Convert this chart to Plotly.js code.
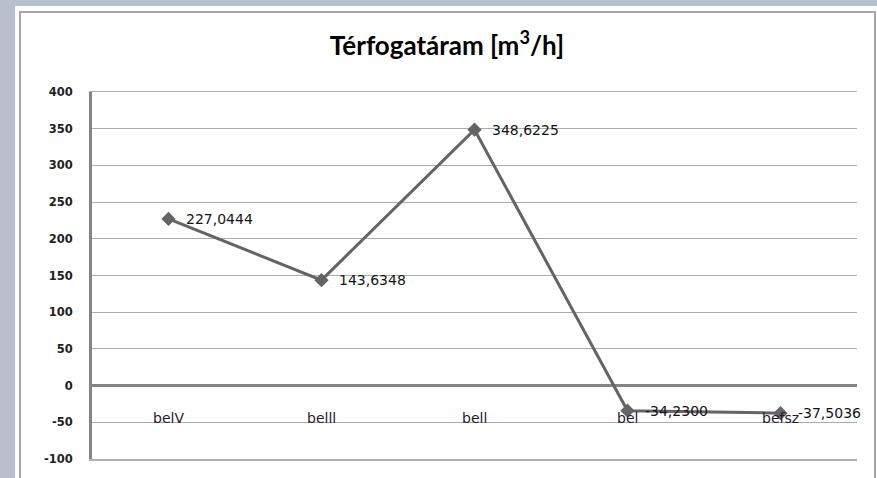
<!DOCTYPE html>
<html>
<head>
<meta charset="utf-8">
<script src="https://cdn.plot.ly/plotly-3.0.1.min.js"></script>
<style>
html,body{margin:0;padding:0;background:#b8c0cc;}
#chart{width:877px;height:478px;}
</style>
</head>
<body>
<div id="chart"></div>
<script>
var categories = ["belV", "belll", "bell", "bel", "befsz"];
var values = [227.0444, 143.6348, 348.6225, -34.2300, -37.5036];
var valueLabels = ["227,0444", "143,6348", "348,6225", "-34,2300", "-37,5036"];
var yTicks = [400, 350, 300, 250, 200, 150, 100, 50, 0, -50, -100];

var W = 877, H = 478;
var m = {l: 92, r: 20, t: 92, b: 19};
var pw = W - m.l - m.r, ph = H - m.t - m.b;
function px(x){ return (x - m.l) / pw; }
function py(y){ return (H - m.b - y) / ph; }

var trace = {
  x: categories,
  y: values,
  type: 'scatter',
  mode: 'lines+markers',
  line: {color: '#646464', width: 3},
  marker: {symbol: 'diamond', size: 11, color: '#646464'},
  hoverinfo: 'skip'
};

var annotations = [];
for (var i = 0; i < categories.length; i++) {
  annotations.push({
    x: categories[i], y: values[i], xref: 'x', yref: 'y',
    text: valueLabels[i], showarrow: false,
    xanchor: 'left', yanchor: 'middle', xshift: 15,
    font: {family: 'DejaVu Sans', size: 14, color: '#141414'}
  });
  annotations.push({
    x: categories[i], y: -44, xref: 'x', yref: 'y',
    text: categories[i], showarrow: false,
    xanchor: 'center', yanchor: 'middle',
    font: {family: 'DejaVu Sans', size: 14, color: '#2a1a30'}
  });
}

var shapes = [
  {type: 'rect', xref: 'paper', yref: 'paper', layer: 'below',
   x0: px(15), x1: px(877), y0: py(478), y1: py(6),
   fillcolor: '#ffffff', line: {width: 0}},
  {type: 'rect', xref: 'paper', yref: 'paper', layer: 'below',
   x0: px(20), x1: px(875), y0: py(490), y1: py(12),
   fillcolor: 'rgba(0,0,0,0)', line: {color: '#a6a6a6', width: 2}}
];

var layout = {
  width: W, height: H,
  margin: m,
  paper_bgcolor: '#b8c0cc',
  plot_bgcolor: '#ffffff',
  showlegend: false,
  title: {
    text: 'Térfogatáram [m<sup>3</sup>/h]',
    font: {family: 'Lato', size: 26, color: '#000000', weight: 'bold'},
    x: 447/W, xanchor: 'center', y: 1 - 46/H, yanchor: 'middle'
  },
  xaxis: {
    type: 'category',
    showticklabels: false,
    showgrid: false, zeroline: false, ticks: '',
    showline: true, mirror: true, linecolor: '#b0b0b0', linewidth: 1.5,
    range: [-0.5, categories.length - 0.5],
    fixedrange: true
  },
  yaxis: {
    range: [-100, 400],
    tickvals: yTicks,
    ticktext: yTicks.map(String),
    tickfont: {family: 'DejaVu Sans', size: 11.5, color: '#222222', weight: 'bold'},
    ticks: '', ticklabelstandoff: 14,
    showgrid: true, gridcolor: '#ababab', gridwidth: 1,
    zeroline: true, zerolinecolor: '#858585', zerolinewidth: 3,
    showline: true, linecolor: '#858585', linewidth: 3,
    fixedrange: true
  },
  shapes: shapes,
  annotations: annotations
};

Plotly.newPlot('chart', [trace], layout, {displayModeBar: false, staticPlot: true});
</script>
</body>
</html>
